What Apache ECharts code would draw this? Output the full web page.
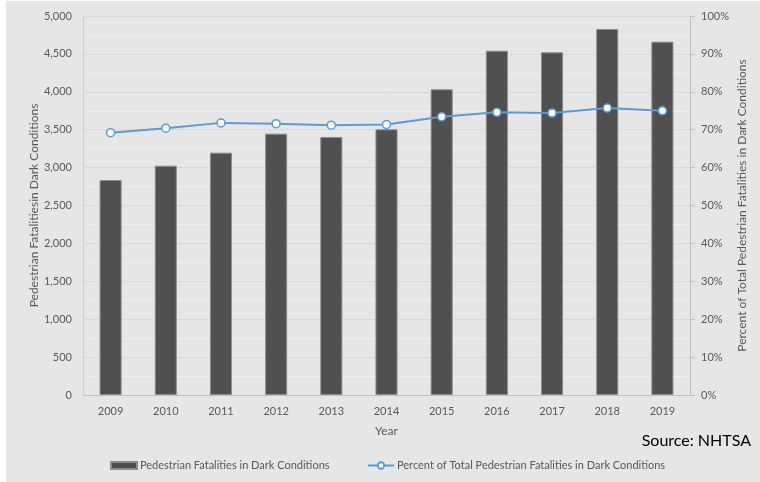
<!DOCTYPE html>
<html>
<head>
<meta charset="utf-8">
<script src="https://cdn.jsdelivr.net/npm/echarts@6/dist/echarts.min.js"></script>
<style>
  html, body { margin: 0; padding: 0; background: #ffffff; }
  #chart { width: 760px; height: 482px; }
</style>
</head>
<body>
<div id="chart"></div>
<script>
// Pedestrian fatalities in dark conditions, 2009-2019
const years = ['2009', '2010', '2011', '2012', '2013', '2014', '2015', '2016', '2017', '2018', '2019'];
const darkFatalities = [2836, 3025, 3197, 3448, 3404, 3505, 4033, 4542, 4521, 4828, 4661];
const darkPercent = [0.692, 0.704, 0.718, 0.716, 0.712, 0.714, 0.734, 0.746, 0.744, 0.757, 0.750];
const countTicks = [0, 500, 1000, 1500, 2000, 2500, 3000, 3500, 4000, 4500, 5000];
const percentTicks = [0, 0.1, 0.2, 0.3, 0.4, 0.5, 0.6, 0.7, 0.8, 0.9, 1.0];

const barName = 'Pedestrian Fatalities in Dark Conditions';
const lineName = 'Percent of Total Pedestrian Fatalities in Dark Conditions';
const FONT = 'Lato';
const TXT = '#595959';

const chart = echarts.init(document.getElementById('chart'), null, { renderer: 'canvas' });

chart.setOption({
  animation: false,
  backgroundColor: '#ffffff',
  textStyle: { fontFamily: FONT },
  graphic: [
    {
      type: 'rect', z: -10, silent: true,
      shape: { x: 6, y: 1, width: 754, height: 481 },
      style: { fill: '#e6e6e6' }
    },
    {
      type: 'text', right: 9, top: 433,
      style: { text: 'Source: NHTSA', fontFamily: FONT, fontSize: 16, fill: '#000000' }
    }
  ],
  grid: { left: 83, right: 70, top: 16, bottom: 87 },
  legend: [
    {
      left: 110, top: 460, padding: 0,
      itemWidth: 26, itemHeight: 7,
      data: [{ name: barName, icon: 'rect' }],
      textStyle: { color: TXT, fontSize: 11, fontFamily: FONT, padding: [0, 0, 0, -2] }
    },
    {
      left: 367, top: 460, padding: 0,
      itemWidth: 26, itemHeight: 8,
      data: [{ name: lineName }],
      textStyle: { color: TXT, fontSize: 11, fontFamily: FONT, padding: [0, 0, 0, -2] }
    }
  ],
  xAxis: {
    type: 'category',
    data: years,
    boundaryGap: true,
    name: 'Year',
    nameLocation: 'middle',
    nameGap: 30,
    nameTextStyle: { color: TXT, fontSize: 12, fontFamily: FONT },
    axisLine: { show: true, lineStyle: { color: '#bfbfbf', width: 1 } },
    axisTick: { show: false },
    axisLabel: { color: TXT, fontSize: 11, fontFamily: FONT, margin: 11 }
  },
  yAxis: [
    {
      type: 'value',
      min: countTicks[0],
      max: countTicks[countTicks.length - 1],
      interval: countTicks[1] - countTicks[0],
      name: 'Pedestrian Fatalitiesin Dark Conditions',
      nameLocation: 'middle',
      nameGap: 43,
      nameMoveOverlap: false,
      nameTextStyle: { color: TXT, fontSize: 12, fontFamily: FONT },
      axisLine: { show: true, lineStyle: { color: '#cfcfcf', width: 1 } },
      axisTick: { show: false },
      axisLabel: {
        color: TXT, fontSize: 11, fontFamily: FONT, margin: 11,
        formatter: v => v.toLocaleString('en-US')
      },
      splitLine: { show: true, lineStyle: { color: '#d9d9d9', width: 1 } },
      minorTick: { show: false, splitNumber: 2 },
      minorSplitLine: { show: true, lineStyle: { color: '#f0f0f0', width: 1 } }
    },
    {
      type: 'value',
      min: percentTicks[0],
      max: percentTicks[percentTicks.length - 1],
      interval: 0.1,
      position: 'right',
      name: lineName,
      nameLocation: 'middle',
      nameGap: 46,
      nameMoveOverlap: false,
      nameRotate: 90,
      nameTextStyle: { color: TXT, fontSize: 12, fontFamily: FONT },
      axisLine: { show: true, lineStyle: { color: '#bfbfbf', width: 1 } },
      axisTick: { show: true, inside: false, length: 5, lineStyle: { color: '#bfbfbf' } },
      axisLabel: {
        color: TXT, fontSize: 11, fontFamily: FONT, margin: 11,
        formatter: v => Math.round(v * 100) + '%'
      },
      splitLine: { show: false }
    }
  ],
  series: [
    {
      name: barName,
      type: 'bar',
      yAxisIndex: 0,
      data: darkFatalities,
      barWidth: '40%',
      itemStyle: { color: '#505050', borderColor: '#8c8c8c', borderWidth: 1 }
    },
    {
      name: lineName,
      type: 'line',
      yAxisIndex: 1,
      data: darkPercent,
      symbol: 'circle',
      symbolSize: 8,
      showAllSymbol: true,
      lineStyle: { color: '#5b9bd5', width: 2 },
      itemStyle: { color: '#ffffff', borderColor: '#5b9bd5', borderWidth: 1.5 },
      z: 5
    }
  ]
});
</script>
</body>
</html>
